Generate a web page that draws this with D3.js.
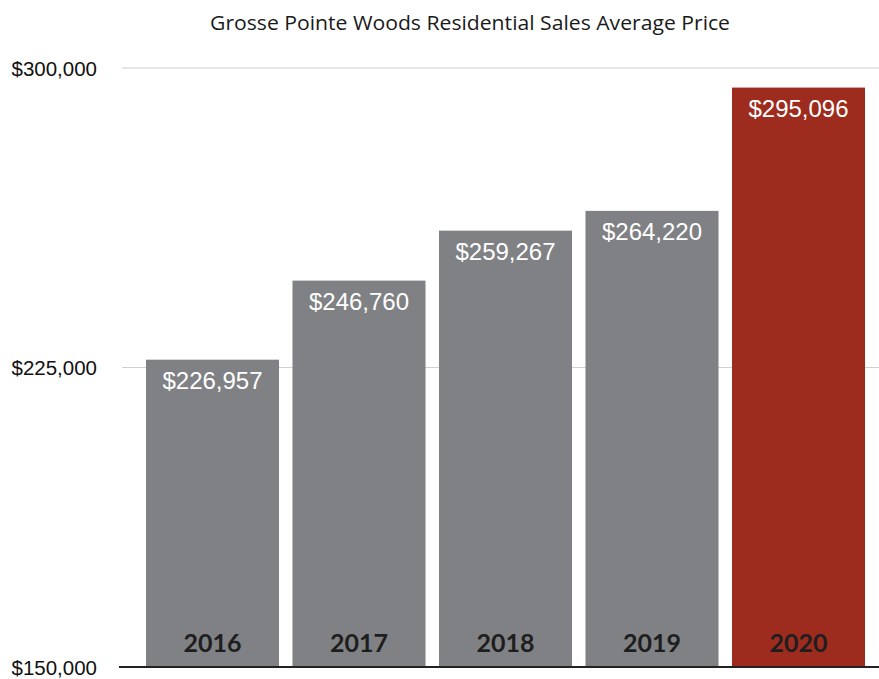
<!DOCTYPE html>
<html>
<head>
<meta charset="utf-8">
<script src="https://cdn.jsdelivr.net/npm/d3@7"></script>
<style>
  html, body { margin: 0; padding: 0; background: #fff; }
  svg { display: block; }
</style>
</head>
<body>
<svg id="chart" width="879" height="679"></svg>
<script>
// Average residential sale price by year
const years = ["2016", "2017", "2018", "2019", "2020"];
const avgPrice = [226957, 246760, 259267, 264220, 295096];
const yTicks = [150000, 225000, 300000];
const chartTitle = "Grosse Pointe Woods Residential Sales Average Price";

const svg = d3.select("#chart");
const W = 879, H = 679;

const x = d3.scaleBand()
  .domain(years)
  .range([139.25, 871.75])
  .paddingInner(0.092)
  .paddingOuter(0.046);

const y = d3.scaleLinear()
  .domain([150000, 300000])
  .range([667, 68]);

const money = v => "$" + d3.format(",")(v);

// Title
svg.append("text")
  .attr("x", 470)
  .attr("y", 30)
  .attr("text-anchor", "middle")
  .attr("font-family", "'Open Sans', Lato, sans-serif")
  .attr("font-size", 20.5)
  .attr("fill", "#1a1a1a")
  .attr("textLength", 520)
  .attr("lengthAdjust", "spacingAndGlyphs")
  .text(chartTitle);

// Gridlines and y-axis labels
const yAxis = d3.axisLeft(y)
  .tickValues(yTicks)
  .tickSize(0)
  .tickPadding(0)
  .tickFormat(money);

const gAxis = svg.append("g")
  .attr("transform", "translate(97,0)")
  .call(yAxis);
gAxis.select(".domain").remove();
gAxis.selectAll("text")
  .attr("font-family", "'Liberation Sans', Arial, sans-serif")
  .attr("font-size", 20.5)
  .attr("fill", "#111")
  .attr("dy", "0.36em");

svg.append("g")
  .selectAll("line")
  .data(yTicks.filter(t => t !== 150000))
  .join("line")
  .attr("x1", 122)
  .attr("x2", W)
  .attr("y1", d => y(d))
  .attr("y2", d => y(d))
  .attr("stroke", "#d0d0d2")
  .attr("stroke-width", 1.2);

// Bars
const rows = years.map((yr, i) => ({ year: yr, value: avgPrice[i] }));
const barColor = d => d.year === "2020" ? "#9e2c1e" : "#808184";

svg.append("g")
  .selectAll("rect")
  .data(rows)
  .join("rect")
  .attr("x", d => x(d.year))
  .attr("y", d => y(d.value))
  .attr("width", x.bandwidth())
  .attr("height", d => y(150000) - y(d.value))
  .attr("fill", barColor);

// Value labels inside bar tops
svg.append("g")
  .selectAll("text")
  .data(rows)
  .join("text")
  .attr("x", d => x(d.year) + x.bandwidth() / 2)
  .attr("y", d => y(d.value) + 29)
  .attr("text-anchor", "middle")
  .attr("font-family", "'Liberation Sans', Arial, sans-serif")
  .attr("font-size", 24)
  .attr("fill", "#fff")
  .text(d => money(d.value));

// Year labels near the base of each bar
svg.append("g")
  .selectAll("text")
  .data(rows)
  .join("text")
  .attr("x", d => x(d.year) + x.bandwidth() / 2)
  .attr("y", 652)
  .attr("text-anchor", "middle")
  .attr("font-family", "Lato, sans-serif")
  .attr("font-weight", "bold")
  .attr("font-size", 25)
  .attr("fill", "#1e1e1e")
  .text(d => d.year);

// Baseline
svg.append("line")
  .attr("x1", 119)
  .attr("x2", W)
  .attr("y1", y(150000))
  .attr("y2", y(150000))
  .attr("stroke", "#222")
  .attr("stroke-width", 2);
</script>
</body>
</html>
